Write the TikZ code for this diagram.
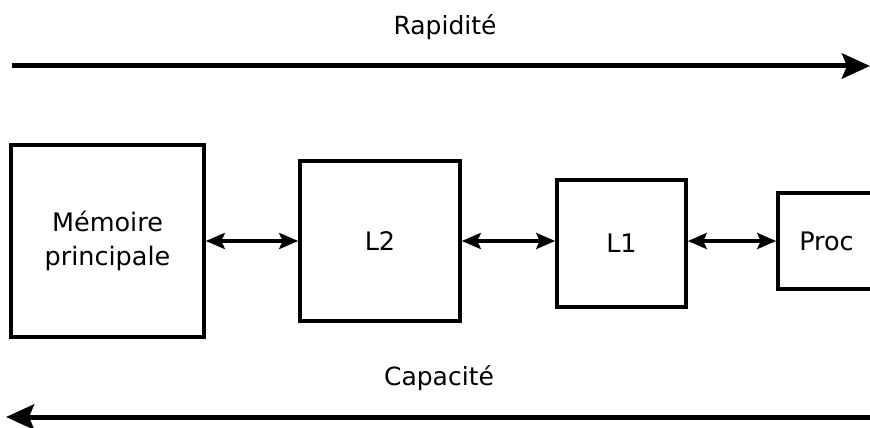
\documentclass[tikz,border=0pt]{standalone}
\usepackage{fontspec}
\setmainfont{DejaVu Sans}
\usetikzlibrary{arrows.meta}
\begin{document}
\begin{tikzpicture}[x=1pt,y=-1pt,
  box/.style={draw,line width=3.6pt,inner sep=0pt,align=center,
    font=\fontsize{25.5}{34}\selectfont},
  lbl/.style={inner sep=0pt,anchor=base,font=\fontsize{25}{30}\selectfont},
  bigarrow/.style={line width=5pt,-{Stealth[length=28pt,width=25pt,inset=5pt]}},
  dblarrow/.style={line width=3.6pt,{Stealth[length=19pt,width=16pt,inset=3.5pt]}-{Stealth[length=19pt,width=16pt,inset=3.5pt]}}]
\useasboundingbox (0,0) rectangle (870,428);
\clip (0,0) rectangle (870,428);
\node[lbl] (rap) at (445,35) {Rapidité};
\node[lbl] (cap) at (439,385) {Capacité};
\coordinate (ta) at (12,66);
\coordinate (tb) at (870,66);
\coordinate (ba) at (870,417);
\coordinate (bb) at (6,417);
\draw[bigarrow] (ta) -- (tb);
\draw[bigarrow] (ba) -- (bb);
\node[box,minimum width=193pt,minimum height=192pt] (mem) at (107.5,241) {Mémoire\\principale};
\node[box,minimum width=160pt,minimum height=160pt] (l2) at (380,241) {L2};
\node[box,minimum width=129pt,minimum height=127pt] (l1) at (621.5,243.5) {L1};
\node[box,minimum width=97pt,minimum height=96pt] (proc) at (826.5,241) {Proc};
\draw[dblarrow] (mem.east) -- (l2.west);
\draw[dblarrow] (l2.east) -- (l2.east -| l1.west);
\draw[dblarrow] (proc.west -| l1.east) -- (proc.west);
\end{tikzpicture}
\end{document}
